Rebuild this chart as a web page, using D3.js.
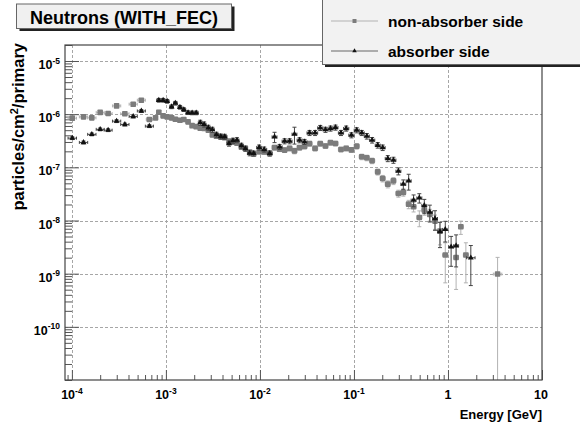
<!doctype html>
<html>
<head>
<meta charset="utf8">
<style>
  body { margin: 0; background: #fff; }
  text { font-family: "Liberation Sans", Arial, sans-serif; font-weight: bold; fill: #000; }
</style>
<script src="https://d3js.org/d3.v7.min.js"></script>
</head>
<body>
<svg width="580" height="427"></svg>
<script>
// non-absorber side (grey squares)
var nonAbsEnergy = [1.01e-4, 1.33e-4, 1.63e-4, 2.00e-4, 2.43e-4, 2.99e-4, 3.66e-4, 4.49e-4, 5.48e-4, 6.67e-4,
    7.76e-4, 8.41e-4, 9.34e-4, 1.03e-3, 1.15e-3, 1.26e-3, 1.41e-3, 1.55e-3, 1.72e-3, 1.90e-3,
    2.10e-3, 2.32e-3, 2.55e-3, 2.83e-3, 3.12e-3, 3.45e-3, 3.83e-3, 4.22e-3, 4.69e-3, 5.17e-3,
    5.70e-3, 6.35e-3, 7.00e-3, 7.78e-3, 8.58e-3, 9.82e-3, 1.11e-2, 1.27e-2, 1.43e-2, 1.62e-2,
    1.83e-2, 2.07e-2, 2.33e-2, 2.64e-2, 2.98e-2, 3.37e-2, 3.86e-2, 4.38e-2, 4.98e-2, 5.63e-2,
    6.36e-2, 7.28e-2, 8.27e-2, 9.40e-2, 0.107, 0.121, 0.137, 0.156, 0.179, 0.202,
    0.229, 0.263, 0.297, 0.335, 0.382, 0.431, 0.496, 0.560, 0.641, 0.728,
    0.822, 0.936, 1.22, 1.37, 1.55, 3.37];
var nonAbsFlux = [8.41e-7, 8.90e-7, 8.52e-7, 1.08e-6, 1.03e-6, 1.43e-6, 1.02e-6, 1.54e-6, 1.83e-6, 7.95e-7,
    8.52e-7, 1.09e-6, 9.29e-7, 8.90e-7, 8.52e-7, 8.05e-7, 7.71e-7, 7.95e-7, 7.17e-7, 6.08e-7,
    5.82e-7, 5.46e-7, 5.39e-7, 5.00e-7, 4.08e-7, 3.86e-7, 3.74e-7, 3.62e-7, 3.11e-7, 2.98e-7,
    2.85e-7, 2.40e-7, 2.27e-7, 1.93e-7, 1.79e-7, 1.97e-7, 1.95e-7, 1.83e-7, 2.35e-7, 2.20e-7,
    2.11e-7, 2.27e-7, 2.04e-7, 2.35e-7, 2.47e-7, 2.79e-7, 2.27e-7, 2.79e-7, 2.52e-7, 2.91e-7,
    2.81e-7, 2.17e-7, 2.27e-7, 2.13e-7, 2.50e-7, 1.58e-7, 1.51e-7, 1.33e-7, 8.23e-8, 6.18e-8,
    4.83e-8, 5.57e-8, 3.23e-8, 3.37e-8, 2.03e-8, 1.81e-8, 1.14e-8, 1.57e-8, 1.30e-8, 9.74e-9,
    6.32e-9, 2.24e-9, 2.02e-9, 7.61e-9, 2.24e-9, 9.83e-10];
// relative errors
var nonAbsErr = [0.05, 0.05, 0.05, 0.05, 0.05, 0.05, 0.05, 0.05, 0.05, 0.05,
    0.05, 0.08, 0.08, 0.08, 0.08, 0.08, 0.08, 0.08, 0.08, 0.08,
    0.08, 0.08, 0.08, 0.08, 0.08, 0.08, 0.08, 0.08, 0.08, 0.08,
    0.08, 0.08, 0.08, 0.08, 0.08, 0.10, 0.10, 0.10, 0.10, 0.10,
    0.10, 0.10, 0.12, 0.10, 0.10, 0.10, 0.10, 0.10, 0.10, 0.10,
    0.10, 0.10, 0.10, 0.10, 0.12, 0.12, 0.12, 0.12, 0.13, 0.14,
    0.15, 0.15, 0.15, 0.15, 0.18, 0.20, 0.33, 0.20, 0.25, 0.30,
    0.45, 0.70, 0.75, 0.28, 0.70, 1.06];

// absorber side (black triangles)
var absEnergy = [1.01e-4, 1.33e-4, 1.63e-4, 2.00e-4, 2.43e-4, 2.99e-4, 3.66e-4, 4.49e-4, 5.48e-4, 6.67e-4,
    8.41e-4, 9.34e-4, 1.03e-3, 1.15e-3, 1.26e-3, 1.41e-3, 1.55e-3, 1.72e-3, 1.90e-3, 2.10e-3,
    2.32e-3, 2.55e-3, 2.83e-3, 3.12e-3, 3.45e-3, 3.83e-3, 4.22e-3, 4.69e-3, 5.17e-3, 5.70e-3,
    6.35e-3, 7.00e-3, 7.78e-3, 8.58e-3, 9.82e-3, 1.11e-2, 1.27e-2, 1.43e-2, 1.62e-2, 1.83e-2,
    2.07e-2, 2.33e-2, 2.64e-2, 2.98e-2, 3.37e-2, 3.86e-2, 4.38e-2, 4.98e-2, 5.63e-2, 6.36e-2,
    7.28e-2, 8.27e-2, 9.40e-2, 0.107, 0.121, 0.137, 0.156, 0.179, 0.202, 0.229,
    0.263, 0.297, 0.335, 0.382, 0.431, 0.496, 0.560, 0.641, 0.728, 0.822,
    0.936, 1.08, 1.22, 1.75];
var absFlux = [3.54e-7, 2.94e-7, 4.17e-7, 5.18e-7, 5.00e-7, 7.39e-7, 6.40e-7, 9.05e-7, 1.15e-6, 5.95e-7,
    1.83e-6, 1.83e-6, 1.75e-6, 1.38e-6, 1.61e-6, 1.35e-6, 1.22e-6, 1.07e-6, 1.06e-6, 1.06e-6,
    6.92e-7, 6.43e-7, 5.57e-7, 5.11e-7, 4.12e-7, 3.81e-7, 3.77e-7, 2.81e-7, 3.18e-7, 3.25e-7,
    2.56e-7, 2.25e-7, 1.85e-7, 1.83e-7, 2.37e-7, 2.17e-7, 1.83e-7, 3.74e-7, 2.43e-7, 3.11e-7,
    3.11e-7, 4.21e-7, 3.25e-7, 3.02e-7, 4.45e-7, 4.45e-7, 5.53e-7, 5.11e-7, 5.39e-7, 5.62e-7,
    4.45e-7, 5.39e-7, 4.03e-7, 5.00e-7, 4.45e-7, 3.86e-7, 3.25e-7, 2.61e-7, 2.35e-7, 1.47e-7,
    1.37e-7, 8.48e-8, 4.83e-8, 5.57e-8, 2.42e-8, 2.66e-8, 1.92e-8, 1.44e-8, 1.09e-8, 6.18e-9,
    6.80e-9, 3.20e-9, 3.35e-9, 1.99e-9];
var absErr = [0.06, 0.06, 0.06, 0.06, 0.06, 0.06, 0.06, 0.06, 0.06, 0.06,
    0.08, 0.08, 0.08, 0.08, 0.08, 0.08, 0.08, 0.08, 0.08, 0.08,
    0.11, 0.11, 0.11, 0.11, 0.11, 0.11, 0.11, 0.11, 0.11, 0.11,
    0.11, 0.11, 0.11, 0.11, 0.11, 0.11, 0.11, 0.22, 0.11, 0.11,
    0.11, 0.35, 0.11, 0.11, 0.11, 0.11, 0.11, 0.11, 0.11, 0.11,
    0.11, 0.11, 0.11, 0.11, 0.11, 0.12, 0.12, 0.12, 0.12, 0.13,
    0.13, 0.15, 0.20, 0.33, 0.25, 0.20, 0.30, 0.35, 0.40, 0.50,
    0.42, 0.57, 0.60, 0.70];

var xMajor = [1e-4, 1e-3, 1e-2, 1e-1, 1, 10];
var xLabelBase = ["10", "10", "10", "10", "1", "10"];
var xLabelExp = ["-4", "-3", "-2", "-1", "", ""];
var yMajor = [1e-10, 1e-9, 1e-8, 1e-7, 1e-6, 1e-5];
var yLabelExp = ["-10", "-9", "-8", "-7", "-6", "-5"];

var svg = d3.select("svg");
var fl = 65, fr = 542, ft = 45, fb = 380;   // frame edges

var x = d3.scaleLog().domain([8.45e-5, 10]).range([fl, fr]);
var y = d3.scaleLog().domain([1e-11, 2e-5]).range([fb, ft]);

svg.append("clipPath").attr("id", "frame")
   .append("rect").attr("x", fl).attr("y", ft)
   .attr("width", fr - fl).attr("height", fb - ft);

// grid
var grid = svg.append("g").attr("stroke", "#a6a6a6").attr("stroke-dasharray", "3,2").attr("stroke-width", 1);
grid.selectAll(".gx").data(xMajor.filter(function(d) { return d < 10; }))
    .enter().append("line")
    .attr("x1", function(d) { return Math.round(x(d)) + 0.5; })
    .attr("x2", function(d) { return Math.round(x(d)) + 0.5; })
    .attr("y1", ft).attr("y2", fb);
grid.selectAll(".gy").data(yMajor)
    .enter().append("line")
    .attr("y1", function(d) { return Math.round(y(d)) + 0.5; })
    .attr("y2", function(d) { return Math.round(y(d)) + 0.5; })
    .attr("x1", fl).attr("x2", fr);

// axes: ticks pointing inside the frame
var xMinor = x.ticks().filter(function(d) { return xMajor.indexOf(d) < 0; });
var yMinor = y.ticks().filter(function(d) { return yMajor.indexOf(d) < 0; });

function styleAxis(g) {
    g.select(".domain").remove();
    g.selectAll("line").attr("stroke", "#555");
}
svg.append("g").attr("transform", "translate(0," + fb + ")")
   .call(d3.axisBottom(x).tickValues(xMajor).tickSize(-10).tickFormat(""))
   .call(styleAxis);
svg.append("g").attr("transform", "translate(0," + fb + ")")
   .call(d3.axisBottom(x).tickValues(xMinor).tickSize(-5).tickFormat(""))
   .call(styleAxis);
svg.append("g").attr("transform", "translate(" + fl + ",0)")
   .call(d3.axisLeft(y).tickValues(yMajor).tickSize(-14).tickFormat(""))
   .call(styleAxis);
svg.append("g").attr("transform", "translate(" + fl + ",0)")
   .call(d3.axisLeft(y).tickValues(yMinor).tickSize(-7).tickFormat(""))
   .call(styleAxis);

// tick labels
var xl = svg.append("g").attr("font-size", "12.5px");
xMajor.forEach(function(v, i) {
    var t = xl.append("text").attr("x", x(v) - (i == 5 ? 1 : 0)).attr("y", 399).attr("text-anchor", "middle");
    t.append("tspan").text(xLabelBase[i]);
    if (xLabelExp[i]) t.append("tspan").attr("dy", -5).attr("font-size", "8.5px").text(xLabelExp[i]);
});
var yl = svg.append("g").attr("font-size", "12.5px");
yMajor.forEach(function(v, i) {
    var t = yl.append("text").attr("x", 60).attr("y", y(v) + 8).attr("text-anchor", "end");
    t.append("tspan").text("10");
    t.append("tspan").attr("dy", -5.5).attr("font-size", "8.5px").text(yLabelExp[i]);
});

// axis titles
svg.append("text").attr("x", 542).attr("y", 419).attr("text-anchor", "end")
   .attr("font-size", "13px").text("Energy [GeV]");
var yt = svg.append("text").attr("transform", "translate(24,43) rotate(-90)")
   .attr("text-anchor", "end").attr("font-size", "16.5px");
yt.append("tspan").text("particles/cm");
yt.append("tspan").attr("dy", -6).attr("font-size", "11px").text("2");
yt.append("tspan").attr("dy", 6).text("/primary");

// data
var plot = svg.append("g").attr("clip-path", "url(#frame)");

function drawSeries(E, F, R, errColor, marker) {
    var pts = E.map(function(e, i) {
        var lg = Math.log10(e), gaps = [];
        if (i > 0) gaps.push(lg - Math.log10(E[i - 1]));
        if (i < E.length - 1) gaps.push(Math.log10(E[i + 1]) - lg);
        var h = Math.min(d3.min(gaps) / 2, 0.045);
        var lo = F[i] * (1 - R[i]);
        return { e: e, f: F[i], hi: F[i] * (1 + R[i]), lo: lo > 0 ? lo : null,
                 x0: Math.pow(10, lg - h), x1: Math.pow(10, lg + h) };
    });
    var g = plot.append("g").attr("stroke", errColor).attr("stroke-width", 1).attr("fill", "none");
    pts.forEach(function(p) {
        var cx = x(p.e), cy = y(p.f), yh = y(p.hi), ylo = p.lo ? y(p.lo) : fb + 5;
        g.append("line").attr("x1", cx).attr("x2", cx).attr("y1", yh).attr("y2", ylo);
        g.append("line").attr("x1", cx - 2).attr("x2", cx + 2).attr("y1", yh).attr("y2", yh);
        if (p.lo) g.append("line").attr("x1", cx - 2).attr("x2", cx + 2).attr("y1", ylo).attr("y2", ylo);
        var xa = x(p.x0), xb = x(p.x1);
        g.append("line").attr("x1", xa).attr("x2", xb).attr("y1", cy).attr("y2", cy);
        g.append("line").attr("x1", xa).attr("x2", xa).attr("y1", cy - 1.5).attr("y2", cy + 1.5);
        g.append("line").attr("x1", xb).attr("x2", xb).attr("y1", cy - 1.5).attr("y2", cy + 1.5);
    });
    marker(plot.append("g"), pts);
}

function squares(g, pts) {
    g.selectAll("rect").data(pts).enter().append("rect")
     .attr("x", function(d) { return x(d.e) - 2.8; })
     .attr("y", function(d) { return y(d.f) - 2.8; })
     .attr("width", 5.6).attr("height", 5.6).attr("rx", 0.8)
     .attr("fill", "#7c7c7c");
}
var tri = d3.symbol().type(d3.symbolTriangle).size(15);
function triangles(g, pts) {
    g.selectAll("path").data(pts).enter().append("path")
     .attr("d", tri)
     .attr("transform", function(d) { return "translate(" + x(d.e) + "," + y(d.f) + ")"; })
     .attr("fill", "#111");
}

drawSeries(nonAbsEnergy, nonAbsFlux, nonAbsErr, "#b2b2b2", squares);
drawSeries(absEnergy, absFlux, absErr, "#444", triangles);

// frame
svg.append("rect").attr("x", fl).attr("y", ft).attr("width", fr - fl).attr("height", fb - ft)
   .attr("fill", "none").attr("stroke", "#444").attr("stroke-width", 1.2);

// title box
svg.append("rect").attr("x", 19.5).attr("y", 6.5).attr("width", 215).attr("height", 24.5).attr("fill", "#222");
svg.append("rect").attr("x", 16.5).attr("y", 4).attr("width", 215).attr("height", 24.5)
   .attr("fill", "#f0f0f0").attr("stroke", "#666").attr("stroke-width", 1);
svg.append("text").attr("x", 124).attr("y", 24).attr("text-anchor", "middle")
   .attr("font-size", "18px").text("Neutrons (WITH_FEC)");

// legend
var legendLabels = ["non-absorber side", "absorber side"];
svg.append("rect").attr("x", 325).attr("y", 0).attr("width", 260).attr("height", 67).attr("fill", "#222");
svg.append("rect").attr("x", 322.5).attr("y", -2).attr("width", 262).attr("height", 66.5)
   .attr("fill", "#f2f2f2").attr("stroke", "#666").attr("stroke-width", 1);
var lg = svg.append("g");
[{ c: "#b2b2b2", y: 21 }, { c: "#666", y: 51 }].forEach(function(d, i) {
    lg.append("line").attr("x1", 331).attr("x2", 378).attr("y1", d.y).attr("y2", d.y)
      .attr("stroke", d.c).attr("stroke-width", 1);
    if (i == 0) {
        lg.append("rect").attr("x", 352.5).attr("y", d.y - 2).attr("width", 4).attr("height", 4).attr("fill", "#7c7c7c");
    } else {
        lg.append("path").attr("d", d3.symbol().type(d3.symbolTriangle).size(9))
          .attr("transform", "translate(354.5," + d.y + ")").attr("fill", "#111");
    }
    lg.append("text").attr("x", 388).attr("y", d.y + 5.5).attr("font-size", "15.5px").text(legendLabels[i]);
});
</script>
</body>
</html>
